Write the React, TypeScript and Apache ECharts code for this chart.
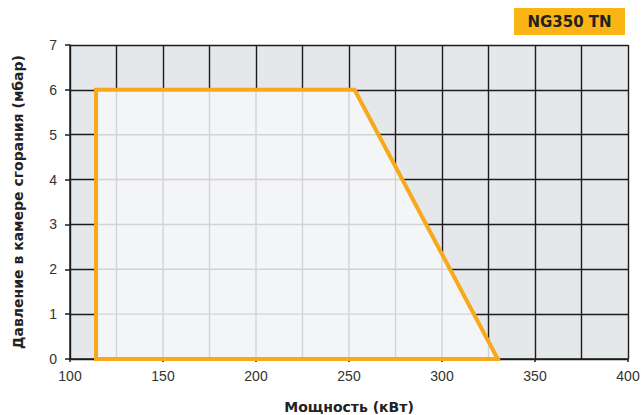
import React, { useEffect, useRef } from "react";
import * as echarts from "echarts";

const powerKW = [114, 114, 253, 330];
const pressureMbar = [0, 6, 6, 0];
const xTicks = [100, 150, 200, 250, 300, 350, 400];
const modelName = "NG350 TN";
const xTitle = "Мощность (кВт)";
const yTitle = "Давление в камере сгорания (мбар)";

const X_MIN = 100, X_MAX = 400, X_STEP = 50, X_MINOR = 25;
const Y_MIN = 0, Y_MAX = 7, Y_STEP = 1;

const verts = powerKW.map((x, i) => [x, pressureMbar[i]]);

function crossV(x: number): number[] {
  const ys: number[] = [];
  for (let i = 0; i < verts.length; i++) {
    const [x1, y1] = verts[i];
    const [x2, y2] = verts[(i + 1) % verts.length];
    if (x1 === x2) continue;
    if ((x - x1) * (x - x2) <= 0) ys.push(y1 + ((x - x1) / (x2 - x1)) * (y2 - y1));
  }
  return ys.length ? [Math.min(...ys), Math.max(...ys)] : [];
}
function crossH(y: number): number[] {
  const xs: number[] = [];
  for (let i = 0; i < verts.length; i++) {
    const [x1, y1] = verts[i];
    const [x2, y2] = verts[(i + 1) % verts.length];
    if (y1 === y2) continue;
    if ((y - y1) * (y - y2) <= 0) xs.push(x1 + ((y - y1) / (y2 - y1)) * (x2 - x1));
  }
  return xs.length ? [Math.min(...xs), Math.max(...xs)] : [];
}

export default function App() {
  const ref = useRef<HTMLDivElement>(null);
  useEffect(() => {
    if (!ref.current) return;
    const chart = echarts.init(ref.current, null, { renderer: "svg" });
    const dark = "#1c1c1c";
    const light = "#d2d3d5";
    const orange = "#f7a81b";
    const titleFont = { fontFamily: "DejaVu Sans", fontWeight: "bold", fontSize: 14, color: "#222" };
    chart.setOption({
      animation: false,
      grid: {
        left: 70, right: 15, top: 45, bottom: 56,
        outerBoundsMode: "none", containLabel: false,
        show: true, backgroundColor: "#e5e8eb", borderWidth: 0,
      },
      xAxis: {
        type: "value", min: X_MIN, max: X_MAX, interval: X_STEP,
        name: xTitle, nameLocation: "middle", nameGap: 41,
        nameTextStyle: titleFont,
        axisLine: { show: true, lineStyle: { color: dark, width: 1.5 } },
        axisTick: { show: true, length: 3, lineStyle: { color: dark, width: 1.5 } },
        axisLabel: {
          margin: 10, fontFamily: "Liberation Sans", fontSize: 14, color: "#333",
          formatter: (v: number) => (xTicks.includes(v) ? String(v) : ""),
        },
        splitLine: { show: true, lineStyle: { color: dark, width: 1.4 } },
        minorTick: { show: false, splitNumber: X_STEP / X_MINOR },
        minorSplitLine: { show: true, lineStyle: { color: dark, width: 1.4 } },
      },
      yAxis: {
        type: "value", min: Y_MIN, max: Y_MAX, interval: Y_STEP,
        name: yTitle, nameLocation: "middle", nameGap: 45, nameRotate: 90,
        nameTextStyle: titleFont,
        axisLine: { show: true, lineStyle: { color: dark, width: 1.5 } },
        axisTick: { show: true, length: 5, lineStyle: { color: dark, width: 1.5 } },
        axisLabel: { margin: 13, fontFamily: "Liberation Sans", fontSize: 14, color: "#333" },
        splitLine: { show: true, lineStyle: { color: dark, width: 1.4 } },
      },
      graphic: [
        { type: "rect", left: 514, top: 8, shape: { width: 111, height: 27 }, style: { fill: "#fbb416" } },
        {
          type: "text", x: 569.5, y: 22,
          style: {
            text: modelName, fill: "#222", fontFamily: "DejaVu Sans", fontWeight: "bold",
            fontSize: 15, align: "center", verticalAlign: "middle",
          },
        },
      ],
      series: [
        {
          type: "custom",
          coordinateSystem: "cartesian2d",
          data: [[powerKW[0], pressureMbar[0]]],
          renderItem: (params: any, api: any) => {
            const pts = verts.map((v) => api.coord(v));
            const children: any[] = [
              { type: "polygon", shape: { points: pts }, style: { fill: "#f4f5f7", stroke: "none" } },
            ];
            for (let x = X_MIN; x <= X_MAX; x += X_MINOR) {
              const c = crossV(x);
              if (c.length && c[1] > c[0]) {
                const p1 = api.coord([x, c[0]]);
                const p2 = api.coord([x, c[1]]);
                children.push({ type: "line", shape: { x1: p1[0], y1: p1[1], x2: p2[0], y2: p2[1] }, style: { stroke: light, lineWidth: 1.4 } });
              }
            }
            for (let y = Y_MIN; y <= Y_MAX; y += Y_STEP) {
              const c = crossH(y);
              if (c.length && c[1] > c[0]) {
                const p1 = api.coord([c[0], y]);
                const p2 = api.coord([c[1], y]);
                children.push({ type: "line", shape: { x1: p1[0], y1: p1[1], x2: p2[0], y2: p2[1] }, style: { stroke: light, lineWidth: 1.4 } });
              }
            }
            children.push({
              type: "polygon", shape: { points: pts },
              style: { fill: "none", stroke: orange, lineWidth: 4, lineJoin: "miter" },
            });
            return { type: "group", children };
          },
        },
      ],
    });
    return () => chart.dispose();
  }, []);
  return <div ref={ref} style={{ width: 643, height: 415, position: "fixed", left: 0, top: 0, background: "#fff" }} />;
}
